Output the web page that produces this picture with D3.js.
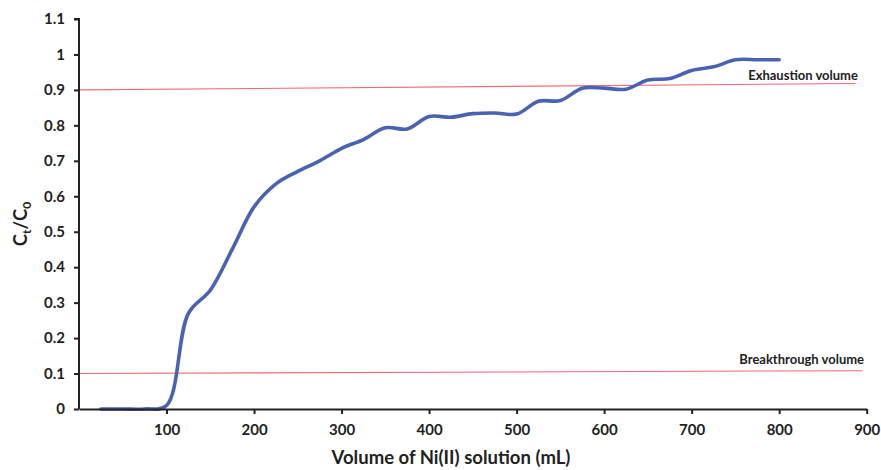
<!DOCTYPE html>
<html>
<head>
<meta charset="utf-8">
<script src="https://cdn.jsdelivr.net/npm/d3@7"></script>
<style>
  html, body { margin: 0; padding: 0; background: #fff; }
  svg { display: block; font-family: Lato, "Open Sans", sans-serif; }
</style>
</head>
<body>
<svg id="chart" width="881" height="470"></svg>
<script>
// Breakthrough curve: effluent/influent concentration ratio vs. volume passed
const volume = [25, 50, 75, 100, 125, 150, 175, 200, 225, 250, 275, 300, 325, 350, 375,
                400, 425, 450, 475, 500, 525, 550, 575, 600, 625, 650, 675, 700, 725, 750, 775, 800];
const ratio  = [0, 0, 0, 0.01, 0.27, 0.335, 0.45, 0.57, 0.635, 0.67, 0.70, 0.735, 0.76, 0.793, 0.79,
                0.825, 0.823, 0.833, 0.835, 0.832, 0.868, 0.87, 0.905, 0.905, 0.902, 0.928, 0.932,
                0.955, 0.965, 0.985, 0.985, 0.985];

// Reference lines (start / end points)
const breakthroughX = [0, 895];
const breakthroughY = [0.1, 0.108];
const exhaustionX = [0, 887];
const exhaustionY = [0.9, 0.918];

const xTicks = [100, 200, 300, 400, 500, 600, 700, 800, 900];
const yTicks = [0, 0.1, 0.2, 0.3, 0.4, 0.5, 0.6, 0.7, 0.8, 0.9, 1, 1.1];

const svg = d3.select("#chart");
const margin = { left: 79, right: 14, top: 19, bottom: 61 };
const W = 881, H = 470;

const x = d3.scaleLinear().domain([0, 900]).range([margin.left, W - margin.right - 0.3]);
const y = d3.scaleLinear().domain([0, 1.1]).range([H - margin.bottom, margin.top]);

// reference lines
const refLine = d3.line().x(d => x(d[0])).y(d => y(d[1]));
svg.append("path")
  .datum(d3.zip(breakthroughX, breakthroughY))
  .attr("d", refLine).attr("fill", "none")
  .attr("stroke", "#f06a78").attr("stroke-width", 1.1);
svg.append("path")
  .datum(d3.zip(exhaustionX, exhaustionY))
  .attr("d", refLine).attr("fill", "none")
  .attr("stroke", "#f06a78").attr("stroke-width", 1.1);

// curve
const curve = d3.line()
  .x(d => x(d[0])).y(d => y(d[1]))
  .curve(d3.curveCatmullRom.alpha(0.5));
svg.append("path")
  .datum(d3.zip(volume, ratio))
  .attr("d", curve).attr("fill", "none")
  .attr("stroke", "#4a62b2").attr("stroke-width", 3.6)
  .attr("stroke-linejoin", "round").attr("stroke-linecap", "round");

// axes
const xAxis = svg.append("g")
  .attr("transform", `translate(0,${y(0)})`)
  .call(d3.axisBottom(x).tickValues(xTicks).tickSize(5).tickSizeOuter(0).tickPadding(10));
const yAxis = svg.append("g")
  .attr("transform", `translate(${x(0)},0)`)
  .call(d3.axisLeft(y).tickValues(yTicks).tickSize(5).tickSizeOuter(0).tickPadding(9)
        .tickFormat(d => d3.format("~g")(d)));

[xAxis, yAxis].forEach(g => {
  g.select(".domain").attr("stroke", "#222").attr("stroke-width", 2);
  g.selectAll(".tick line").attr("stroke", "#222").attr("stroke-width", 2);
  g.selectAll(".tick text")
    .attr("fill", "#222").attr("font-size", 15).attr("font-weight", 700)
    .attr("font-family", "Lato, sans-serif");
});
// top end tick of the y axis
yAxis.select(".domain").attr("d", `M-5,${y(1.1)}H0V${y(0)}`);

// reference line labels
svg.append("text")
  .attr("x", x(890)).attr("y", y(0.9) - 10)
  .attr("text-anchor", "end")
  .attr("font-size", 13).attr("font-weight", 700).attr("fill", "#222")
  .text("Exhaustion volume");
svg.append("text")
  .attr("x", x(897)).attr("y", y(0.1) - 10)
  .attr("text-anchor", "end")
  .attr("font-size", 13).attr("font-weight", 700).attr("fill", "#222")
  .text("Breakthrough volume");

// axis titles
svg.append("text")
  .attr("x", 451).attr("y", 464)
  .attr("text-anchor", "middle")
  .attr("font-size", 18.5).attr("font-weight", 700).attr("fill", "#222")
  .text("Volume of Ni(II) solution (mL)");

const yTitle = svg.append("text")
  .attr("transform", `translate(27,224) rotate(-90)`)
  .attr("text-anchor", "middle")
  .attr("font-size", 18.5).attr("font-weight", 700).attr("fill", "#222");
yTitle.append("tspan").text("C");
yTitle.append("tspan").attr("font-size", 12).attr("dy", 4).text("t");
yTitle.append("tspan").attr("dy", -4).text("/C");
yTitle.append("tspan").attr("font-size", 12).attr("dy", 4).text("0");
</script>
</body>
</html>
